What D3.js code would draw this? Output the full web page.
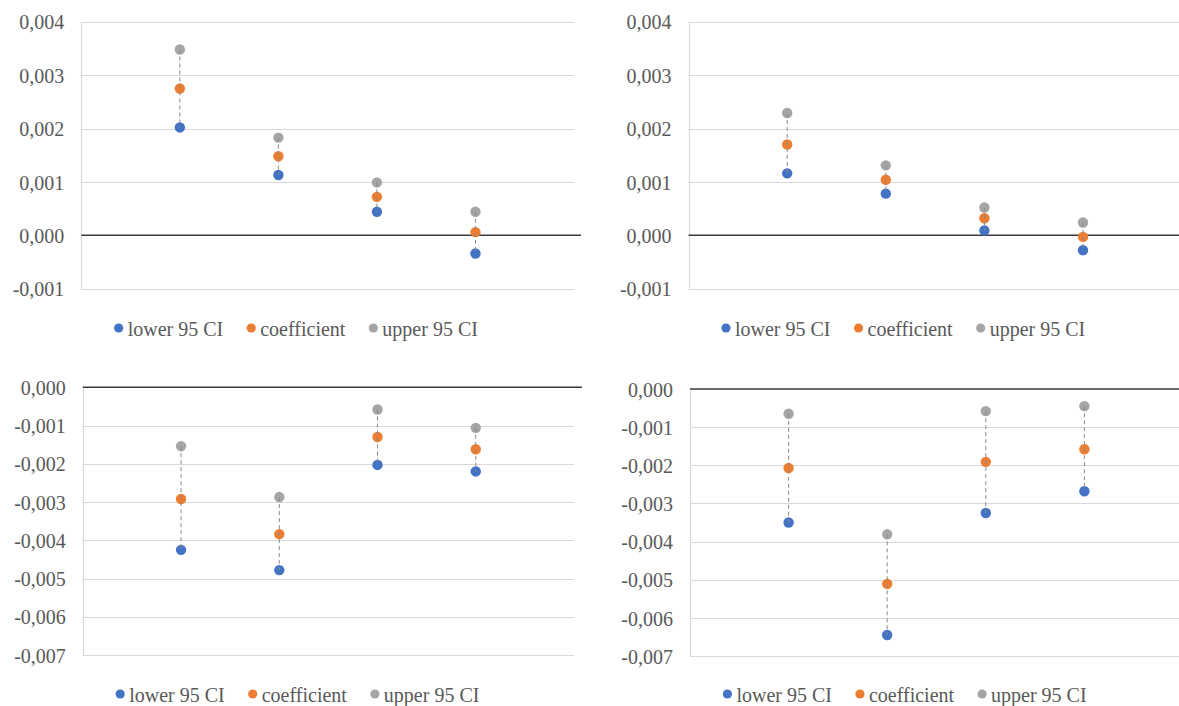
<!DOCTYPE html>
<html>
<head>
<meta charset="utf-8">
<script src="https://cdn.jsdelivr.net/npm/d3@7"></script>
<style>
  html, body { margin: 0; padding: 0; background: #ffffff; }
  svg { display: block; }
</style>
</head>
<body>
<svg id="chart" width="1179" height="706"></svg>
<script>
// ---------------- data ----------------
const categories = ["1", "2", "3", "4"];
const seriesNames = ["lower 95 CI", "coefficient", "upper 95 CI"];

const lowerA = [0.00202, 0.00113, 0.00044, -0.00034];
const coefA  = [0.00275, 0.00148, 0.00072, 0.00006];
const upperA = [0.00348, 0.00183, 0.00099, 0.00044];

const lowerB = [0.00116, 0.00078, 0.00009, -0.00028];
const coefB  = [0.00170, 0.00104, 0.00032, -0.00003];
const upperB = [0.00229, 0.00131, 0.00052, 0.00024];

const lowerC = [-0.00425, -0.00478, -0.00203, -0.00220];
const coefC  = [-0.00292, -0.00384, -0.00130, -0.00162];
const upperC = [-0.00154, -0.00287, -0.00058, -0.00106];

const lowerD = [-0.00350, -0.00645, -0.00325, -0.00268];
const coefD  = [-0.00207, -0.00511, -0.00191, -0.00158];
const upperD = [-0.00065, -0.00381, -0.00058, -0.00045];

const yTicksTop    = [-0.001, 0, 0.001, 0.002, 0.003, 0.004];
const yTicksBottom = [-0.007, -0.006, -0.005, -0.004, -0.003, -0.002, -0.001, 0];

// ---------------- styling / layout ----------------
const colors = ["#4472C4", "#ED7D31", "#A5A5A5"];
const fontFamily = "'Liberation Serif', 'Times New Roman', serif";
const textColor = "#595959";

const panels = [
  { lower: lowerA, coef: coefA, upper: upperA, ticks: yTicksTop,
    x0: 81.3, x1: 574, yTop: 21.7, yBot: 288.7, zeroExt: 7, legendY: 329 },
  { lower: lowerB, coef: coefB, upper: upperB, ticks: yTicksTop,
    x0: 688.6, x1: 1181.6, yTop: 21.7, yBot: 288.7, zeroExt: 7, legendY: 329 },
  { lower: lowerC, coef: coefC, upper: upperC, ticks: yTicksBottom,
    x0: 82.8, x1: 574, yTop: 387.3, yBot: 655, zeroExt: 8, legendY: 695 },
  { lower: lowerD, coef: coefD, upper: upperD, ticks: yTicksBottom,
    x0: 690, x1: 1183, yTop: 389, yBot: 656, zeroExt: 8, legendY: 695 }
];

const locale = d3.formatLocale({ decimal: ",", thousands: ".", grouping: [3], currency: ["", ""], minus: "-" });
const fmt = locale.format(".3f");

const svg = d3.select("#chart");

panels.forEach(p => {
  const g = svg.append("g");
  const x = d3.scalePoint().domain(categories).range([p.x0, p.x1]).padding(1);
  const y = d3.scaleLinear()
    .domain([d3.min(p.ticks), d3.max(p.ticks)])
    .range([p.yBot, p.yTop]);

  // gridlines
  g.append("g").selectAll("line").data(p.ticks.filter(t => t !== 0)).join("line")
    .attr("x1", p.x0).attr("x2", p.x1)
    .attr("y1", d => Math.round(y(d)) + 0.5).attr("y2", d => Math.round(y(d)) + 0.5)
    .attr("stroke", "#d9d9d9").attr("stroke-width", 1.2);

  // vertical axis line
  g.append("line")
    .attr("x1", Math.round(p.x0) + 0.5).attr("x2", Math.round(p.x0) + 0.5)
    .attr("y1", y(d3.max(p.ticks))).attr("y2", y(d3.min(p.ticks)))
    .attr("stroke", "#d9d9d9").attr("stroke-width", 1.2);

  // tick labels via axis
  const axis = d3.axisLeft(y).tickValues(p.ticks).tickFormat(fmt).tickSize(0).tickPadding(17);
  const ag = g.append("g").attr("transform", `translate(${p.x0},0)`).call(axis);
  ag.select(".domain").remove();
  ag.selectAll("text")
    .attr("font-family", fontFamily).attr("font-size", 20)
    .attr("fill", textColor).attr("dy", "0.36em");

  // zero line
  g.append("line")
    .attr("x1", p.x0).attr("x2", p.x1 + p.zeroExt)
    .attr("y1", y(0)).attr("y2", y(0))
    .attr("stroke", "#3a3a3a").attr("stroke-width", 1.6);

  // markers
  const series = [p.lower, p.coef, p.upper];
  series.forEach((vals, si) => {
    g.append("g").selectAll("circle").data(vals).join("circle")
      .attr("cx", (d, i) => x(categories[i]))
      .attr("cy", d => y(d))
      .attr("r", 5.2)
      .attr("fill", colors[si]);
  });

  // high-low dashed lines
  g.append("g").selectAll("line").data(categories).join("line")
    .attr("x1", d => x(d)).attr("x2", d => x(d))
    .attr("y1", (d, i) => y(p.upper[i])).attr("y2", (d, i) => y(p.lower[i]))
    .attr("stroke", "#8a8a8a").attr("stroke-width", 1)
    .attr("stroke-dasharray", "4,3");

  // legend
  const lg = g.append("g");
  const items = [];
  const textEnds = [];
  seriesNames.forEach((name, i) => {
    const it = lg.append("g");
    it.append("circle").attr("cx", 0).attr("cy", -1).attr("r", 4.6).attr("fill", colors[i]);
    const t = it.append("text").attr("x", 9).attr("y", 0).attr("dy", "0.33em")
      .attr("font-family", fontFamily).attr("font-size", 20).attr("fill", textColor)
      .text(name);
    items.push(it);
    textEnds.push(9 + t.node().getComputedTextLength());
  });
  let cx = 0;
  items.forEach((it, i) => {
    it.attr("transform", `translate(${cx},${p.legendY})`);
    cx += textEnds[i] + (i < items.length - 1 ? 28 : 0);
  });
  const total = cx;
  const center = p.x0 + 217;
  lg.attr("transform", `translate(${center - total / 2},0)`);
});
</script>
</body>
</html>
